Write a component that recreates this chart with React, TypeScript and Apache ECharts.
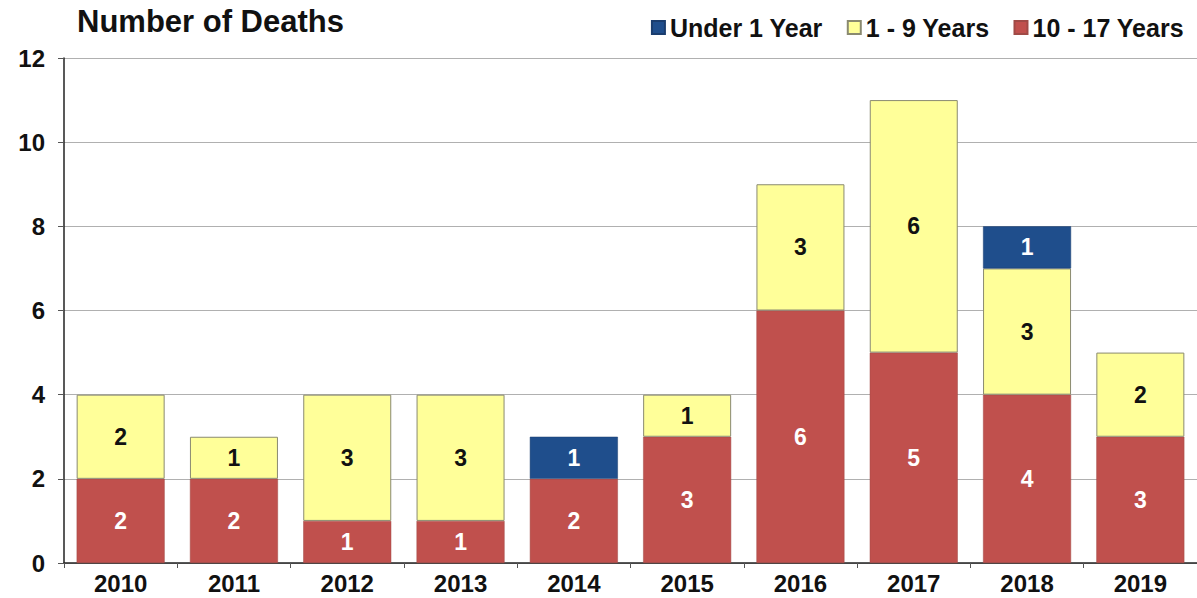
import React, { useEffect, useRef } from "react";
import * as echarts from "echarts";

const years = ["2010", "2011", "2012", "2013", "2014", "2015", "2016", "2017", "2018", "2019"];
const under1 = [0, 0, 0, 0, 1, 0, 0, 0, 1, 0];
const age1to9 = [2, 1, 3, 3, 0, 1, 3, 6, 3, 2];
const age10to17 = [2, 2, 1, 1, 2, 3, 6, 5, 4, 3];
const yTicks = [0, 2, 4, 6, 8, 10, 12];

const FONT = "'Liberation Sans', Arial, sans-serif";

export default function App() {
  const ref = useRef<HTMLDivElement>(null);
  useEffect(() => {
    if (!ref.current) return;
    const chart = echarts.init(ref.current, undefined, { renderer: "svg" });
    const toData = (arr: number[]) => arr.map((v) => (v === 0 ? null : v));
    const lbl = (color: string) => ({
      show: true,
      position: "inside" as const,
      color,
      fontFamily: FONT,
      fontWeight: "bold" as const,
      fontSize: 23,
      formatter: (p: any) => (p.value ? String(p.value) : ""),
    });
    chart.setOption({
      animation: false,
      backgroundColor: "#ffffff",
      title: {
        text: "Number of Deaths",
        left: 72,
        top: 1,
        textStyle: { fontFamily: FONT, fontWeight: "bold", fontSize: 31, color: "#111" },
      },
      legend: {
        data: ["Under 1 Year", "1 - 9 Years", "10 - 17 Years"],
        right: 8,
        top: 10,
        itemWidth: 13,
        itemHeight: 13,
        itemGap: 24,
        icon: "rect",
        textStyle: { fontFamily: FONT, fontWeight: "bold", fontSize: 25, color: "#111", padding: [0, 0, 0, 0] },
      },
      grid: { left: 64, top: 58, width: 1143, bottom: 35, containLabel: false },
      xAxis: {
        type: "category",
        data: years,
        axisLine: { lineStyle: { color: "#222", width: 1.5 } },
        axisTick: { show: true, length: 5, lineStyle: { color: "#555" } },
        axisLabel: { fontFamily: FONT, fontWeight: "bold", fontSize: 24, color: "#111", margin: 8 },
      },
      yAxis: {
        type: "value",
        min: 0,
        max: 12,
        interval: 2,
        axisLine: { show: true, lineStyle: { color: "#222", width: 1.5 } },
        axisTick: { show: true, length: 6, lineStyle: { color: "#555" } },
        axisLabel: {
          fontFamily: FONT,
          fontWeight: "bold",
          fontSize: 24,
          color: "#111",
          margin: 19,
          formatter: (v: number) => (yTicks.includes(v) ? String(v) : ""),
        },
        splitLine: { lineStyle: { color: "#b0b0b0", width: 1 } },
      },
      series: [
        {
          name: "10 - 17 Years",
          type: "bar",
          stack: "all",
          data: toData(age10to17),
          barWidth: 88,
          itemStyle: { color: "#C0504D", borderColor: "#a04a46", borderWidth: 0.5 },
          label: lbl("#ffffff"),
        },
        {
          name: "1 - 9 Years",
          type: "bar",
          stack: "all",
          data: toData(age1to9),
          barWidth: 88,
          itemStyle: { color: "#FFFF99", borderColor: "#8a8a70", borderWidth: 1 },
          label: lbl("#111111"),
        },
        {
          name: "Under 1 Year",
          type: "bar",
          stack: "all",
          data: toData(under1),
          barWidth: 88,
          itemStyle: { color: "#1F4E8C", borderColor: "#1a3d6e", borderWidth: 0.5 },
          label: lbl("#ffffff"),
        },
      ],
    });
    return () => chart.dispose();
  }, []);
  return (
    <div
      ref={ref}
      style={{ position: "absolute", left: 0, top: 0, width: 1197, height: 598 }}
    />
  );
}
